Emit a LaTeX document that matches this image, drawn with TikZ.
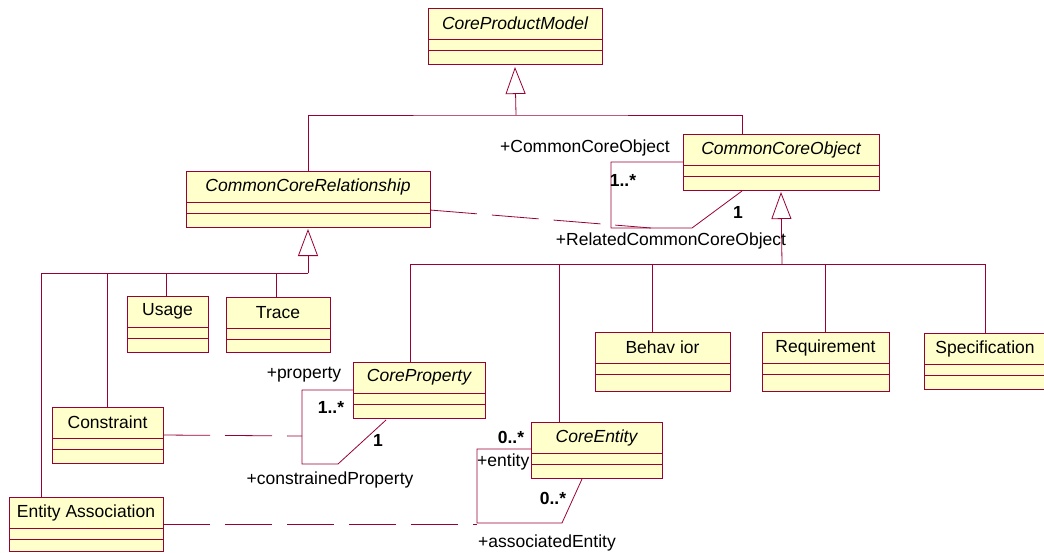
\documentclass[tikz,border=0pt]{standalone}
\usepackage{fontspec}
\setmainfont{Liberation Sans}
\usetikzlibrary{arrows.meta}
\definecolor{umlred}{RGB}{153,0,51}
\definecolor{umlfill}{RGB}{255,255,204}
\tikzset{
  classbox/.style={rectangle, draw=umlred, fill=umlfill, line width=0.9pt, inner sep=0pt, outer sep=0pt},
  classname/.style={font=\fontsize{17.5}{20}\selectfont, inner sep=0pt},
  abstractname/.style={font=\fontsize{17.5}{20}\selectfont\itshape, inner sep=0pt},
  umlline/.style={draw=umlred, line width=0.8pt},
  inherit/.style={umlline, -{Triangle[length=27pt, width=20pt, fill=white]}},
  assocclass/.style={umlline, dash pattern=on 47pt off 15pt},
  rolelabel/.style={font=\fontsize{17.5}{20}\selectfont, inner sep=0pt},
  multlabel/.style={font=\fontsize{17.5}{20}\selectfont\bfseries, inner sep=0pt},
}
% class box: [name style]{node}{x1}{y1}{x2}{y2}{text}
\newcommand{\umlclass}[7][classname]{%
  \node[classbox, anchor=north west, minimum width={#5-#3}, minimum height={#6-#4}] (#2) at (#3,#4) {};
  \node[#1] (#2-name) at ([yshift=-15.5pt]#2.north) {#7};
  \draw[umlline] ([yshift=-31pt]#2.north west) -- ([yshift=-31pt]#2.north east);
  \draw[umlline] ([yshift=-42pt]#2.north west) -- ([yshift=-42pt]#2.north east);
}
\begin{document}
\begin{tikzpicture}[x=1pt, y=-1pt]
\useasboundingbox (0,0) rectangle (1044,552);

% classes
\umlclass[abstractname]{cpm}{428}{8}{602}{64}{CoreProductModel}
\umlclass[abstractname]{cco}{683}{134}{879}{190}{CommonCoreObject}
\umlclass[abstractname]{ccr}{186}{171}{430}{227}{CommonCoreRelationship}
\umlclass{usage}{127}{296}{208}{352}{Usage}
\umlclass{trace}{226}{297}{330}{352}{Trace}
\umlclass{constraint}{52}{407}{163}{463}{Constraint}
\umlclass{ea}{9}{497}{163}{551}{Entity Association}
\umlclass[abstractname]{cp}{353}{362}{485}{418}{CoreProperty}
\umlclass[abstractname]{ce}{531}{422}{662}{478}{CoreEntity}
\umlclass{behavior}{595}{332}{730}{391}{Behav ior}
\umlclass{requirement}{762}{332}{889}{391}{Requirement}
\umlclass{spec}{924}{333}{1046}{389}{Specification}

% generalization: CoreProductModel
\coordinate (cpmjoin) at (516,115);
\draw[umlline] (ccr.north) |- (cpmjoin) -| ([xshift=59pt]cco.north west);
\draw[inherit] (cpmjoin) -- ([yshift=-3pt]cpm.south);

% generalization: CommonCoreRelationship
\coordinate (ccrjoin) at (308,273);
\draw[umlline] (ccrjoin) -| ([xshift=32pt]ea.north west);
\draw[umlline] (ccrjoin) -| (constraint.north);
\draw[umlline] (ccrjoin) -| ([xshift=39pt]usage.north west);
\draw[umlline] (ccrjoin) -| ([xshift=50pt]trace.north west);
\draw[inherit] (ccrjoin) -- ([yshift=-2pt]ccr.south);

% generalization: CommonCoreObject
\coordinate (ccojoin) at (782,264);
\draw[umlline] (ccojoin) -| ([xshift=57pt]cp.north west);
\draw[umlline] (ccojoin) -| ([xshift=28pt]ce.north west);
\draw[umlline] (ccojoin) -| ([xshift=57pt]behavior.north west);
\draw[umlline] (ccojoin) -| (requirement.north);
\draw[umlline] (ccojoin) -| (spec.north);
\draw[inherit] (ccojoin) -- ([yshift=-2pt]cco.south);

% self associations
\draw[umlline] ([yshift=-28pt]cco.north west) -- ++(-72,0) |- (692,228) -- ([xshift=59pt,yshift=-1pt]cco.south west);
\draw[umlline] ([yshift=-28pt]cp.north west) -- ++(-51,0) |- (338,464) -- ([xshift=33pt,yshift=-2pt]cp.south west);
\draw[umlline] ([yshift=-27pt]ce.north west) -- ++(-54,0) |- (562,523) -- ([xshift=51pt,yshift=-1pt]ce.south west);

% association classes
\coordinate (ccomid) at (651,228);
\coordinate (cpmid) at (302,436);
\coordinate (cemid) at (477,524);
\draw[assocclass] ([yshift=-11pt]ccr.east) -- (ccomid);
\draw[assocclass] (constraint.east) -- (cpmid);
\draw[assocclass] (ea.east) -- (cemid);

% roles and multiplicities
\node[rolelabel] (r1) at (585,148) {+CommonCoreObject};
\node[multlabel] (m1) at (623,180) {1..*};
\node[multlabel] (m2) at (738,212) {1};
\node[rolelabel] (r2) at (671,241) {+RelatedCommonCoreObject};
\node[rolelabel] (r3) at (304,375) {+property};
\node[multlabel] (m3) at (331,407) {1..*};
\node[multlabel] (m4) at (378,440) {1};
\node[rolelabel] (r4) at (330,480) {+constrainedProperty};
\node[multlabel] (m5) at (511,437) {0..*};
\node[rolelabel, anchor=west] (r5) at (477,462) {+entity};
\node[multlabel] (m6) at (553,498) {0..*};
\node[rolelabel] (r6) at (547,543) {+associatedEntity};
\end{tikzpicture}
\end{document}
